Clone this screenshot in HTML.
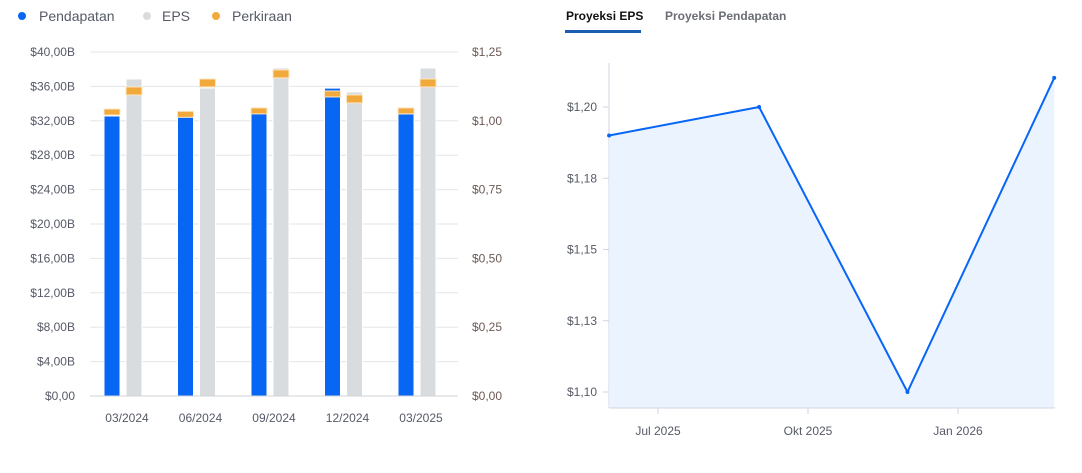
<!DOCTYPE html>
<html><head><meta charset="utf-8"><style>
body{margin:0;width:1082px;height:468px;background:#fff;font-family:"Liberation Sans",sans-serif;overflow:hidden}
svg text{font-family:"Liberation Sans",sans-serif}
</style></head><body>
<svg id="c" width="1082" height="468" xmlns="http://www.w3.org/2000/svg">
<g>
<g><circle cx="22" cy="16" r="4" fill="#0866f5"/><text x="39" y="21" font-size="14" fill="#555a66">Pendapatan</text></g>
<g><circle cx="147" cy="16" r="4" fill="#d9dcdf"/><text x="162" y="21" font-size="14" fill="#555a66">EPS</text></g>
<g><circle cx="216" cy="16" r="4" fill="#f2a93b"/><text x="232" y="21" font-size="14" fill="#555a66">Perkiraan</text></g>
</g>
<g>
<text x="566" y="20" font-size="12" font-weight="bold" fill="#111">Proyeksi EPS</text>
<rect x="565" y="30" width="76" height="3" fill="#1a5cb0"/>
<text x="665" y="20" font-size="12" font-weight="bold" fill="#6b6e75">Proyeksi Pendapatan</text>
</g>
<g id="left"></g>
<g id="right"></g>
</svg>
<script>
const categories=["03/2024","06/2024","09/2024","12/2024","03/2025"];
const revenueActual=[32.56,32.44,32.9,35.8,32.8];
const revenueEstimate=[33.37,33.1,33.5,35.47,33.5];
const epsActual=[1.152,1.119,1.192,1.105,1.192];
const epsEstimate=[1.123,1.152,1.185,1.094,1.152];
const revTicks=[0,4,8,12,16,20,24,28,32,36,40];
const revTickLabels=["$0,00","$4,00B","$8,00B","$12,00B","$16,00B","$20,00B","$24,00B","$28,00B","$32,00B","$36,00B","$40,00B"];
const epsTicks=[0,0.25,0.5,0.75,1,1.25];
const epsTickLabels=["$0,00","$0,25","$0,50","$0,75","$1,00","$1,25"];

const projDates=["2025-06-01","2025-09-01","2025-12-01","2026-03-01"];
const projEps=[1.190,1.200,1.100,1.2102];
const projTicks=[1.10,1.125,1.15,1.175,1.20];
const projTickLabels=["$1,10","$1,13","$1,15","$1,18","$1,20"];
const projXTicks=["2025-07-01","2025-10-01","2026-01-01"];
const projXTickLabels=["Jul 2025","Okt 2025","Jan 2026"];

const NS="http://www.w3.org/2000/svg";
function mk(p,t,a){const e=document.createElementNS(NS,t);for(const k in a)e.setAttribute(k,a[k]);p.appendChild(e);return e;}
const L=document.getElementById('left'),R=document.getElementById('right');
const yTop=52,yBot=396,x0=90,x1=458;
const yRev=v=>yBot-(v/40)*(yBot-yTop);
const yEps=v=>yBot-(v/1.25)*(yBot-yTop);
const xCat=i=>127+i*73.5;
revTicks.forEach((t,i)=>{
  const g=mk(L,'line',{x1:x0,x2:x1,y1:yRev(t),y2:yRev(t),stroke:'#e3e5e8','stroke-width':1});
  
  
  const tx=mk(L,'text',{x:75,y:yRev(t)+4,'font-size':12,fill:'#555a66','text-anchor':'end'});
  tx.textContent=revTickLabels[i];
  
  
});
epsTicks.forEach((t,i)=>{
  const tx=mk(L,'text',{x:472,y:yEps(t)+4,'font-size':12,fill:'#6b5a55'});
  tx.textContent=epsTickLabels[i];
  
  
});
categories.forEach((c,i)=>{
  const cx=xCat(i);
  const b=mk(L,'rect',{x:cx-23,y:yRev(revenueActual[i]),width:16,height:yBot-yRev(revenueActual[i]),fill:'#0866f5',stroke:'#fff','stroke-width':1});
  
  
  const o=mk(L,'rect',{x:cx-23,y:yRev(revenueEstimate[i]),width:16,height:6,fill:'#f2a93b',stroke:'#fde6c4','stroke-width':1});
  
  
  const g=mk(L,'rect',{x:cx-1,y:yEps(epsActual[i]),width:16,height:yBot-yEps(epsActual[i]),fill:'#d9dcdf',stroke:'#fff','stroke-width':1});
  
  
  const o2=mk(L,'rect',{x:cx-1,y:yEps(epsEstimate[i]),width:16,height:8,fill:'#f2a93b',stroke:'#fde6c4','stroke-width':1});
  
  
  const t=mk(L,'text',{x:cx,y:422,'font-size':12,fill:'#555a66','text-anchor':'middle'});
  t.textContent=c;
  
  
});
const bl=mk(L,'line',{x1:x0,x2:x1,y1:yBot,y2:yBot,stroke:'#d0d3d7'});



// right chart
const day=s=>Date.parse(s)/86400000;
const dRef=day("2025-07-01"),pxDay=150/92;
const xP=s=>658+(day(s)-dRef)*pxDay;
const yP=v=>107+(1.20-v)*2850;
const ax=mk(R,'line',{x1:609,x2:609,y1:63,y2:408,stroke:'#d0d6e0'});


projTicks.forEach((t,i)=>{
  const l=mk(R,'line',{x1:603,x2:609,y1:yP(t),y2:yP(t),stroke:'#d0d6e0'});
  
  
  const tx=mk(R,'text',{x:597,y:yP(t)+4,'font-size':12,fill:'#555a66','text-anchor':'end'});
  tx.textContent=projTickLabels[i];
  
  
});
const pts=projDates.map((d,i)=>[xP(d),yP(projEps[i])]);
const area=mk(R,'path',{d:'M'+pts[0][0]+',408 '+pts.map(p=>'L'+p[0]+','+p[1]).join(' ')+' L'+pts[pts.length-1][0]+',408Z',fill:'#ebf3fe'});


const line=mk(R,'path',{d:pts.map((p,i)=>(i?'L':'M')+p[0]+','+p[1]).join(' '),fill:'none',stroke:'#0866f5','stroke-width':2});


pts.forEach(p=>{
  const c=mk(R,'circle',{cx:p[0],cy:p[1],r:2,fill:'#0866f5'});
  
  
});
const xa=mk(R,'line',{x1:609,x2:1055,y1:408,y2:408,stroke:'#d0d6e0'});


projXTicks.forEach((d,i)=>{
  const l=mk(R,'line',{x1:xP(d),x2:xP(d),y1:408,y2:414,stroke:'#d0d6e0'});
  
  
  const tx=mk(R,'text',{x:xP(d),y:435,'font-size':12,fill:'#555a66','text-anchor':'middle'});
  tx.textContent=projXTickLabels[i];
  
  
});
</script>
</body></html>
